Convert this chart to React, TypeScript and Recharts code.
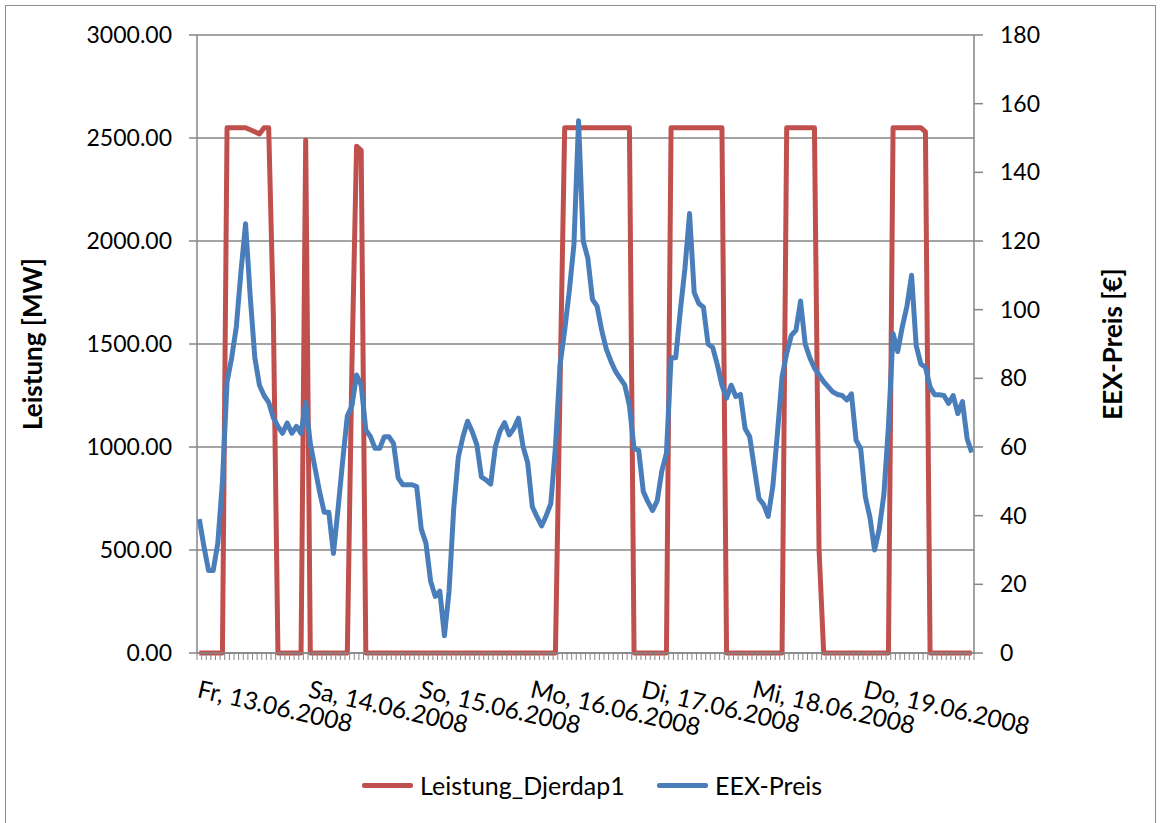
import React from 'react';
import { LineChart, Line, XAxis, YAxis, CartesianGrid, Legend } from 'recharts';

// Tage (je 24 Stunden)
const DAYS = [
  'Fr, 13.06.2008',
  'Sa, 14.06.2008',
  'So, 15.06.2008',
  'Mo, 16.06.2008',
  'Di, 17.06.2008',
  'Mi, 18.06.2008',
  'Do, 19.06.2008',
];
const HOURS = Array.from({ length: 24 }, (_, h) => h);

// Leistung_Djerdap1 [MW], stündlich
const LEISTUNG = [
  0, 0, 0, 0, 0, 0, 2550, 2550, 2550, 2550, 2550, 2540, 2530, 2520, 2550, 2550, 1650, 0, 0, 0, 0, 0, 0, 2490,
  0, 0, 0, 0, 0, 0, 0, 0, 0, 1400, 2460, 2440, 0, 0, 0, 0, 0, 0, 0, 0, 0, 0, 0, 0,
  0, 0, 0, 0, 0, 0, 0, 0, 0, 0, 0, 0, 0, 0, 0, 0, 0, 0, 0, 0, 0, 0, 0, 0,
  0, 0, 0, 0, 0, 0, 1300, 2550, 2550, 2550, 2550, 2550, 2550, 2550, 2550, 2550, 2550, 2550, 2550, 2550, 2550, 2550, 0, 0,
  0, 0, 0, 0, 0, 0, 2550, 2550, 2550, 2550, 2550, 2550, 2550, 2550, 2550, 2550, 2550, 2550, 0, 0, 0, 0, 0, 0,
  0, 0, 0, 0, 0, 0, 0, 2550, 2550, 2550, 2550, 2550, 2550, 2550, 500, 0, 0, 0, 0, 0, 0, 0, 0, 0,
  0, 0, 0, 0, 0, 0, 2550, 2550, 2550, 2550, 2550, 2550, 2550, 2530, 0, 0, 0, 0, 0, 0, 0, 0, 0, 0,
];

// EEX-Preis [€], stündlich
const PREIS = [
  39, 31, 24, 24, 32, 50, 79, 86, 95, 111, 125, 104, 86, 78, 75, 73, 68.5, 66, 64, 67, 64, 66, 64, 73,
  61, 54, 47, 41, 41, 29, 42, 56, 69, 72, 81, 78, 65, 63, 59.6, 59.6, 63, 63, 61, 51, 49, 49, 49, 48.5,
  36, 32, 21, 16.5, 18, 5, 18, 42, 57, 63, 67.5, 64.5, 60.7, 51.3, 50.4, 49.2, 60, 64.6, 67.1, 63.5, 65.4, 68.4, 60.1, 55.4,
  42.6, 39.7, 37, 40, 43.5, 60, 84, 94, 105.5, 119, 155, 120, 115, 103, 101, 94, 88.5, 85, 82, 80, 78, 72, 59.5, 59,
  47, 44, 41.5, 44.3, 53, 58.2, 86, 86, 99.7, 112, 128, 105, 101.8, 100.7, 90, 89, 84, 78, 74.2, 78, 74.7, 75.3, 65.4, 63,
  53.9, 45, 43.3, 39.8, 48.5, 64, 80.5, 87.3, 92.5, 94, 102.5, 90, 86, 83, 81, 79, 77.5, 76, 75.3, 75, 73.7, 75.5, 62, 59.5,
  45.5, 39.5, 30, 36, 46, 66, 93, 87.8, 95, 101, 110, 89.5, 84.2, 83.2, 77.5, 75.2, 75.2, 75, 72.7, 75, 69.7, 73.2, 62.5, 58.4,
];

const LEFT_TICKS = [0, 500, 1000, 1500, 2000, 2500, 3000];
const RIGHT_TICKS = [0, 20, 40, 60, 80, 100, 120, 140, 160, 180];

const data = DAYS.flatMap((day, d) =>
  HOURS.map((h) => ({
    label: h === 0 ? day : `${day} ${h}:00`,
    leistung: LEISTUNG[d * 24 + h],
    preis: PREIS[d * 24 + h],
  }))
);

const RED = '#C0504D';
const BLUE = '#4A7EBB';
const GRAY = '#868686';
const FONT = 'Lato, "Open Sans", sans-serif';
const STEP = 4.625;

const SERIES = [
  { name: 'Leistung_Djerdap1', color: RED },
  { name: 'EEX-Preis', color: BLUE },
];

const DayTick = ({ x, y, payload, index }: any) => {
  const half = STEP / 2;
  const isDay = DAYS.includes(payload.value);
  const tx = x - 3;
  const ty = y + 44;
  return (
    <g>
      <line x1={x - half} x2={x - half} y1={y} y2={y + 7} stroke={GRAY} strokeWidth={1} />
      {index === data.length - 1 && (
        <line x1={x + half} x2={x + half} y1={y} y2={y + 7} stroke={GRAY} strokeWidth={1} />
      )}
      {isDay && (
        <text x={tx} y={ty} transform={`rotate(13, ${tx}, ${ty})`} fontSize={24.5} fontFamily={FONT} fill="#000">
          {payload.value}
        </text>
      )}
    </g>
  );
};

const LegendContent = () => (
  <div style={{ display: 'flex', alignItems: 'center', paddingLeft: 362, fontFamily: FONT, fontSize: 25, color: '#000' }}>
    {SERIES.map((s) => (
      <div key={s.name} style={{ display: 'flex', alignItems: 'center', width: 295 }}>
        <div style={{ width: 51, height: 5, background: s.color, marginRight: 7, borderRadius: 2 }} />
        <span>{s.name}</span>
      </div>
    ))}
  </div>
);

const titleStyle = { fontWeight: 700, fontSize: 26, fontFamily: FONT };

export default function App() {
  return (
    <div style={{ position: 'absolute', left: 0, top: 0, width: 1163, height: 823, background: '#fff', overflow: 'hidden' }}>
      <div
        style={{
          position: 'absolute',
          left: 5,
          top: 5,
          width: 1151,
          height: 840,
          border: '1px solid #8c8c8c',
          boxSizing: 'border-box',
        }}
      />
      <LineChart width={1163} height={823} data={data} margin={{ top: 35, right: 0, bottom: 140, left: 0 }}>
        <CartesianGrid yAxisId="left" vertical={false} stroke={GRAY} strokeWidth={1.5} />
        <XAxis
          dataKey="label"
          interval={0}
          height={30}
          padding={{ left: STEP / 2, right: STEP / 2 }}
          tickSize={0}
          tickMargin={0}
          tickLine={false}
          axisLine={{ stroke: GRAY, strokeWidth: 1.5 }}
          tick={<DayTick />}
        />
        <YAxis
          yAxisId="left"
          width={197}
          domain={[0, 3000]}
          ticks={LEFT_TICKS}
          tickFormatter={(v: number) => v.toFixed(2)}
          axisLine={{ stroke: GRAY, strokeWidth: 1.5 }}
          tickLine={{ stroke: GRAY, strokeWidth: 1.5 }}
          tickSize={8}
          tickMargin={17}
          tick={{ fill: '#000', fontSize: 23, fontFamily: FONT }}
          label={() => (
            <text x={42} y={344} transform="rotate(-90, 42, 344)" textAnchor="middle" fill="#000" style={titleStyle}>
              Leistung [MW]
            </text>
          )}
        />
        <YAxis
          yAxisId="right"
          orientation="right"
          width={189}
          domain={[0, 180]}
          ticks={RIGHT_TICKS}
          axisLine={{ stroke: GRAY, strokeWidth: 1.5 }}
          tickLine={{ stroke: GRAY, strokeWidth: 1.5 }}
          tickSize={9}
          tickMargin={17}
          tick={{ fill: '#000', fontSize: 23, fontFamily: FONT }}
          label={() => (
            <text x={1122} y={344} transform="rotate(-90, 1122, 344)" textAnchor="middle" fill="#000" style={titleStyle}>
              EEX-Preis [€]
            </text>
          )}
        />
        <Line
          yAxisId="left"
          type="linear"
          dataKey="leistung"
          name="Leistung_Djerdap1"
          stroke={RED}
          strokeWidth={5}
          strokeLinejoin="round"
          dot={false}
          activeDot={false}
          isAnimationActive={false}
        />
        <Line
          yAxisId="right"
          type="linear"
          dataKey="preis"
          name="EEX-Preis"
          stroke={BLUE}
          strokeWidth={5}
          strokeLinejoin="round"
          dot={false}
          activeDot={false}
          isAnimationActive={false}
        />
        <Legend
          verticalAlign="middle"
          layout="horizontal"
          wrapperStyle={{ top: 770, left: 0, width: 1163, height: 30 }}
          content={LegendContent}
        />
      </LineChart>
    </div>
  );
}
